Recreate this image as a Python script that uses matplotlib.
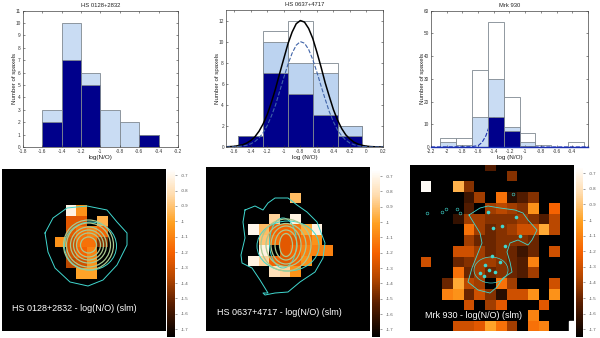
import numpy as np
import matplotlib
matplotlib.use("Agg")
import matplotlib.pyplot as plt
from matplotlib.colors import LinearSegmentedColormap
from matplotlib.patches import Ellipse, Rectangle
from matplotlib.cm import ScalarMappable
from matplotlib.colors import Normalize

plt.rcParams['font.family'] = ['Liberation Sans', 'DejaVu Sans']

#histogram data
edges1 = [-1.6, -1.4, -1.2, -1.0, -0.8, -0.6, -0.4]
light1 = [3, 10, 6, 3, 2, 1]
dark1 = [2, 7, 5, 0, 0, 1]

edges2 = [-1.55, -1.25, -0.95, -0.65, -0.35, -0.05]
total2 = [1, 11, 12, 8, 2]
light2 = [1, 10, 8, 7, 2]
dark2 = [1, 7, 5, 3, 1]
curve_x2 = [-1.7, -1.6, -1.5, -1.45, -1.4, -1.35, -1.3, -1.25, -1.2, -1.15, -1.1, -1.05, -1.0,
            -0.95, -0.9, -0.85, -0.8, -0.75, -0.7, -0.65, -0.6, -0.55, -0.5, -0.45, -0.4, -0.35,
            -0.3, -0.25, -0.2, -0.15, -0.1, -0.05, 0.0, 0.05, 0.1, 0.2]
solid2 = [0.02, 0.06, 0.21, 0.37, 0.61, 0.97, 1.5, 2.2, 3.1, 4.25, 5.55, 7.0, 8.4,
          9.8, 10.9, 11.7, 12, 11.85, 11.25, 10.3, 9.0, 7.6, 6.1, 4.8, 3.55, 2.55,
          1.75, 1.15, 0.75, 0.45, 0.27, 0.15, 0.08, 0.04, 0.02, 0]
dashed2 = [0, 0.02, 0.09, 0.16, 0.3, 0.52, 0.86, 1.35, 2.05, 2.95, 4.0, 5.3, 6.6,
           7.85, 8.9, 9.66, 10, 9.85, 9.26, 8.3, 7.1, 5.8, 4.55, 3.35, 2.4, 1.6,
           1.05, 0.65, 0.37, 0.21, 0.11, 0.06, 0.03, 0.01, 0, 0]

edges3 = [-2.09, -1.885, -1.68, -1.48, -1.275, -1.07, -0.87, -0.665, -0.46, -0.255]
total3 = [4, 4, 34, 55, 22, 6, 1, 0, 2]
light3 = [2, 1, 13, 30, 9, 2, 0, 0, 0]
dark3 = [0, 0, 0, 13, 7, 0.5, 0, 0, 0]
curve_x3 = [-2.2, -1.7, -1.6, -1.55, -1.5, -1.45, -1.4, -1.35, -1.3, -1.25, -1.2, -1.15, -1.1, -1.05, -1.0, -0.2]
dashed3 = [0, 0.1, 0.6, 2, 5, 10, 12.8, 12.5, 9.5, 6, 3, 1.2, 0.4, 0.1, 0, 0]

#maps, log(N/O) per spaxel, nan = no data
n = np.nan
map1 = [[n, -0.72, -1.05, n, n],
        [n, -1.25, -1.25, n, -0.95],
        [n, -1.25, -1.15, -1.1, -1.2],
        [-1.05, -1.3, -1.15, -1.15, -1.45],
        [n, -1.3, -1.2, -1.1, n],
        [n, -1.35, -1.3, -1.05, n],
        [n, n, -1.0, -1.0, n]]
map2 = [[n, n, n, n, -0.92, n, n, n],
        [n, n, n, n, n, n, n, n],
        [n, n, -0.85, n, -0.72, n, n, n],
        [-0.7, -0.92, -1.2, -1.2, -1.15, -0.98, -0.72, n],
        [n, -0.9, -1.15, -1.25, -1.25, -1.15, -1.05, n],
        [n, -0.72, n, -1.25, -1.2, -1.1, -1.1, -1.1],
        [-0.72, -0.85, -1.2, -1.25, -1.2, -1.05, n, n],
        [n, n, -0.8, -0.85, -1.05, n, n, n]]
map3 = [[n, n, n, n, n, n, n, -1.55, n, n, n, n, n, n, n],
        [n, n, n, n, n, n, n, n, n, -1.45, n, n, n, n, n],
        [n, -0.68, n, n, -0.95, -1.45, n, n, n, n, n, n, n, n, n],
        [n, n, n, n, n, -1.6, -1.4, n, -1.15, -1.65, -1.55, -1.45, n, n, n],
        [n, n, n, n, n, -1.55, n, -1.4, -1.35, -1.4, -1.45, -1.05, n, -1.2, n],
        [n, n, n, n, -1.62, -1.4, -1.4, -1.45, -1.45, -1.45, -1.4, -1.45, -1.55, -1.35, n],
        [n, n, n, n, n, -1.15, -1.4, -1.5, -1.45, -1.4, -1.3, -1.3, -0.98, -1.35, n],
        [n, n, n, n, n, -1.4, -1.5, -1.5, -1.45, -1.45, -1.45, -1.5, n, n, n],
        [n, n, n, n, -1.3, -1.3, -1.4, -1.5, -1.45, -1.5, -1.6, -1.5, n, -1.3, n],
        [n, -1.3, n, n, -1.5, -1.45, -1.4, -1.4, -1.45, -1.5, -1.55, -1.1, n, n, n],
        [n, n, n, n, -1.15, -1.5, -1.4, -1.5, -1.45, -1.5, -1.55, -1.4, n, n, n],
        [n, n, n, -1.5, -0.98, -1.35, -1.4, n, -1.15, -1.4, n, n, n, -1.3, n],
        [n, n, n, -1.1, -1.05, -1.5, -1.3, -1.45, -1.65, -1.3, -1.3, -1.05, n, -1.05, n],
        [n, n, n, n, n, -1.3, n, -1.4, -1.25, n, n, n, -1.25, n, n],
        [n, n, n, n, n, n, n, n, n, n, n, -1.1, n, n, n],
        [n, n, n, n, -1.3, -1.3, -1.25, -1.0, -1.15, -1.4, n, -1.15, -1.1, n, n]]

#contours in reference pixels
outer1_x = [45, 53, 67, 87, 107, 117, 127, 127, 117, 103, 88, 70, 55, 48, 45]
outer1_y = [233, 218, 208, 206, 210, 222, 233, 245, 265, 280, 286, 282, 268, 252, 233]
outer2_x = [245, 255, 263, 268, 275, 288, 297, 307, 317, 325, 323, 315, 300, 288, 275, 265, 263, 268, 260, 252, 242, 241, 245, 243, 245]
outer2_y = [210, 206, 210, 203, 198, 198, 205, 212, 222, 243, 258, 272, 282, 292, 293, 295, 293, 293, 280, 268, 263, 255, 238, 222, 210]
outer3_x = [469, 480, 488, 500, 515, 523, 528, 537, 532, 528, 518, 510, 507, 510, 512, 503, 497, 490, 478, 468, 472, 478, 482, 480, 472, 469]
outer3_y = [215, 208, 206, 208, 210, 213, 220, 230, 240, 245, 240, 243, 252, 262, 272, 278, 287, 293, 290, 282, 268, 253, 243, 233, 220, 215]
spots3_x = [488, 493, 502, 516, 520, 480, 495, 485, 492, 505, 500, 484, 489]
spots3_y = [212, 228, 226, 217, 236, 273, 272, 265, 256, 246, 262, 276, 270]
loops3_x = [427, 442, 446, 457, 460, 513]
loops3_y = [213, 212, 209, 209, 213, 194]
rings1 = [16, 24, 30, 36, 44, 50]
rings2 = [(13, 23), (22, 30), (30, 38), (40, 43), (50, 52)]

heat = LinearSegmentedColormap.from_list("heat", [(0, "#000000"), (0.2, "#5a1e00"), (0.36, "#b84800"),
                                                  (0.5, "#f56000"), (0.68, "#ffa020"),
                                                  (0.85, "#ffdcae"), (1, "#ffffff")])
vmin, vmax = -1.75, -0.66
grey = "#555555"

fig = plt.figure(figsize=(6, 3.38), dpi=100)

def px_axes(x0, y0, x1, y1):
    return fig.add_axes([x0 / 600, 1 - y1 / 338, (x1 - x0) / 600, (y1 - y0) / 338])

def hist_axes(box, title, xlabel, xlim, ylim, xticks, xlabels, yticks):
    ax = px_axes(*box)
    ax.set_xlim(*xlim)
    ax.set_ylim(*ylim)
    ax.set_xticks(xticks)
    ax.set_xticklabels(xlabels)
    ax.set_yticks(yticks)
    ax.tick_params(direction="in", top=True, right=True, length=1.5, width=0.4, labelsize=3.4,
                   pad=1.5, colors="#333333")
    for s in ax.spines.values():
        s.set_linewidth(0.5)
        s.set_color("#444444")
    ax.set_title(title, fontsize=4.2, pad=3, color="#222222")
    ax.set_xlabel(xlabel, fontsize=4.6, labelpad=0.5, color="#222222")
    ax.set_ylabel("Number of spaxels", fontsize=4.4, labelpad=-0.9, color="#222222")
    return ax

def bars(ax, edges, vals, color):
    e = np.array(edges)
    ax.bar(e[:-1], vals, width=np.diff(e), align="edge", color=color, edgecolor="#7f8890", linewidth=0.6)

#top row
ax = hist_axes((22.7, 10.7, 178, 147), "HS 0128+2832", "log(N/O)", (-1.8, -0.2), (0, 11),
               np.arange(-1.8, -0.1, 0.2), ["-1.8", "-1.6", "-1.4", "-1.2", "-1", "-0.8", "-0.6", "-0.4", "-0.2"],
               range(0, 12))
bars(ax, edges1, light1, "#c9dcf3")
bars(ax, edges1, dark1, "#00008b")

ax = hist_axes((226, 10, 383, 147), "HS 0637+4717", "log (N/O)", (-1.7, 0.2), (0, 13),
               np.arange(-1.6, 0.3, 0.2),
               ["-1.6", "-1.4", "-1.2", "-1", "-0.8", "-0.6", "-0.4", "-0.2", "0", "0.2"], range(0, 13, 2))
bars(ax, edges2, total2, "white")
bars(ax, edges2, light2, "#bcd3f0")
bars(ax, edges2, dark2, "#00008b")
ax.plot(curve_x2, solid2, color="black", lw=1.1)
ax.plot(curve_x2, dashed2, color="#3f63a8", lw=0.8, ls="--")

ax = hist_axes((431, 10.7, 588, 147), "Mrk 930", "log (N/O)", (-2.2, -0.2), (0, 60),
               np.arange(-2.2, -0.1, 0.2),
               ["-2.2", "-2", "-1.8", "-1.6", "-1.4", "-1.2", "-1", "-0.8", "-0.6", "-0.4", ""], range(0, 61, 10))
bars(ax, edges3, total3, "white")
bars(ax, edges3, light3, "#c9dcf3")
ax.plot(curve_x3, dashed3, color="#1a2fb0", lw=0.8, ls="--", zorder=1.5)
e3 = np.array(edges3)
ax.bar(e3[:-1], dark3, width=np.diff(e3), align="edge", color="#00008b", edgecolor="#7f8890", linewidth=0.6, zorder=1.6)
ax.plot([-2.2, -0.2], [0, 0], color="#1a2fb0", lw=1.0, clip_on=False, zorder=3)

#bottom row
def map_axes(box, grid, origin, cell, label, label_pos, bar_box):
    ax = px_axes(*box)
    ax.set_facecolor("black")
    g = np.array(grid)
    ext = (origin[0], origin[0] + cell[0] * g.shape[1], origin[1] + cell[1] * g.shape[0], origin[1])
    ax.imshow(g, cmap=heat, vmin=vmin, vmax=vmax, extent=ext, interpolation="nearest", aspect="auto")
    ax.set_xlim(box[0], box[2])
    ax.set_ylim(box[3], box[1])
    ax.set_xticks([])
    ax.set_yticks([])
    for s in ax.spines.values():
        s.set_visible(False)
    ax.text(label_pos[0], label_pos[1], label, color="white", fontsize=6.5, va="center", zorder=5)
    cax = px_axes(*bar_box)
    cb = fig.colorbar(ScalarMappable(Normalize(vmin, vmax), heat), cax=cax)
    cb.set_ticks(np.arange(-1.7, -0.65, 0.1))
    cb.set_ticklabels(["-1.7", "-1.6", "-1.5", "-1.4", "-1.3", "-1.2", "-1.1", "-1", "-0.9", "-0.8", "-0.7"])
    cb.ax.tick_params(labelsize=3.2, length=1.2, width=0.4, pad=3, colors=grey, direction="out")
    cb.outline.set_visible(False)
    return ax

cyan = "#40d8d0"
ring = "#a9c98f"

ax = map_axes((2, 169, 166, 331), map1, (55, 205.7), (10.5, 10.45),
              "HS 0128+2832 - log(N/O) (slm)", (12.5, 308), (166.7, 169, 175, 337))
ax.plot(outer1_x, outer1_y, color=cyan, lw=0.7)
ax.add_patch(Ellipse((90.5, 246), 52, 48, fill=False, ec=cyan, lw=0.7))
for r in rings1:
    ax.add_patch(Ellipse((88.5, 245), r, r, fill=False, ec=ring, lw=0.9))

ax = map_axes((206, 167, 370, 331), map2, (248, 194), (10.55, 10.4),
              "HS 0637+4717 - log(N/O) (slm)", (217, 313), (372, 170, 380, 337))
ax.plot(outer2_x, outer2_y, color=cyan, lw=0.7)
ax.add_patch(Ellipse((288, 246), 62, 50, fill=False, ec=cyan, lw=0.7))
ax.add_patch(Ellipse((283, 243), 27, 50, fill=False, ec=cyan, lw=0.7))
for w, h in rings2:
    ax.add_patch(Ellipse((286, 245), w, h, fill=False, ec=ring, lw=0.9))

ax = map_axes((410, 165, 574, 331), map3, (410.3, 161), (10.67, 10.67),
              "Mrk 930 - log(N/O) (slm)", (425, 315), (575.7, 167, 583, 337))
ax.add_patch(Rectangle((569, 321), 5, 10, color="white", zorder=3))
ax.plot(outer3_x, outer3_y, color=cyan, lw=0.6)
ax.add_patch(Ellipse((491, 270), 34, 26, fill=False, ec=cyan, lw=0.5))
ax.plot(spots3_x, spots3_y, ls="none", marker="o", ms=2.6, color=cyan, mew=0)
ax.plot(loops3_x, loops3_y, ls="none", marker="o", ms=2.0, mfc="none", mec=cyan, mew=0.4)

fig.savefig("out.png", dpi=100)
